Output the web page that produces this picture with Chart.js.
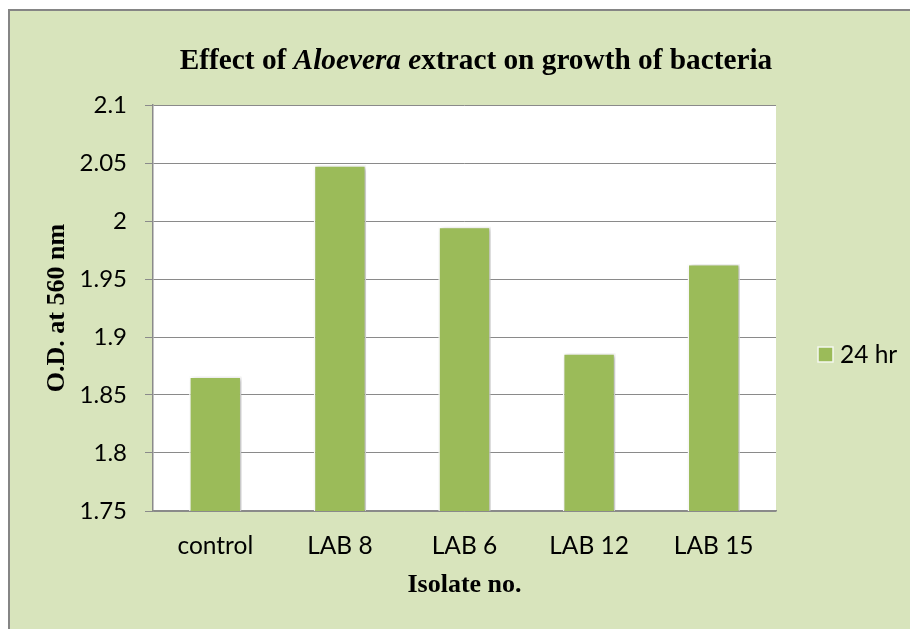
<!DOCTYPE html>
<html>
<head>
<meta charset="utf-8">
<script src="https://cdn.jsdelivr.net/npm/chart.js@4.4.1/dist/chart.umd.min.js"></script>
<style>
  html, body { margin: 0; padding: 0; background: #fff; }
  #wrap { position: relative; width: 910px; height: 629px; overflow: hidden; }
  #box {
    position: absolute; left: 8px; top: 9px; width: 920px; height: 640px;
    background: #d8e4bc; border-left: 2px solid #858585; border-top: 2px solid #858585;
  }
  #od_chart { position: absolute; left: 0; top: 0; }
</style>
</head>
<body>
<div id="wrap">
  <div id="box"></div>
  <canvas id="od_chart" width="910" height="629"></canvas>
</div>
<script>
// data
const categories = ["control", "LAB 8", "LAB 6", "LAB 12", "LAB 15"];
const od24hr = [1.866, 2.048, 1.995, 1.886, 1.963];
const seriesLabel = "24 hr";
const yMin = 1.75;
const yMax = 2.1;
const yStep = 0.05;

// title pieces (part of it is italic)
const titleParts = [
  { text: "Effect of ", italic: false },
  { text: "Aloevera e", italic: true },
  { text: "xtract on growth of bacteria", italic: false },
];
const yTitle = "O.D. at 560 nm";
const xTitle = "Isolate no.";

const barGreen = "#9bbb59";
const gridGray = "#8a8a8a";
const serif = "'Liberation Serif', 'Times New Roman', serif";
const sans = "Lato, 'Noto Sans', sans-serif";

// white plot area, bar shadow, mixed-style title and the legend
const extrasPlugin = {
  id: "extras",
  beforeDraw(chart) {
    const a = chart.chartArea;
    const ctx = chart.ctx;
    ctx.save();
    ctx.fillStyle = "#ffffff";
    ctx.fillRect(a.left, a.top, a.right - a.left, a.bottom - a.top);
    ctx.restore();
  },
  beforeDatasetsDraw(chart) {
    const ctx = chart.ctx;
    ctx.save();
    ctx.shadowColor = "rgba(0,0,0,0.28)";
    ctx.shadowBlur = 4;
    ctx.shadowOffsetX = 2;
    ctx.shadowOffsetY = 1;
  },
  afterDatasetsDraw(chart) {
    chart.ctx.restore();
  },
  afterDraw(chart) {
    const ctx = chart.ctx;
    ctx.save();
    // title
    ctx.fillStyle = "#000";
    ctx.textBaseline = "middle";
    let total = 0;
    titleParts.forEach((p) => {
      ctx.font = (p.italic ? "italic " : "") + "bold 29.3px " + serif;
      p.w = ctx.measureText(p.text).width;
      total += p.w;
    });
    let x = 476 - total / 2;
    titleParts.forEach((p) => {
      ctx.font = (p.italic ? "italic " : "") + "bold 29.3px " + serif;
      ctx.fillText(p.text, x, 61);
      x += p.w;
    });
    // legend
    const ds = chart.data.datasets[0];
    const lx = chart.chartArea.right + 42;
    const ly = 347;
    ctx.fillStyle = ds.backgroundColor;
    ctx.fillRect(lx, ly, 15, 15);
    ctx.strokeStyle = "#f4f7ee";
    ctx.lineWidth = 1.5;
    ctx.strokeRect(lx, ly, 15, 15);
    ctx.fillStyle = "#000";
    ctx.font = "24.5px " + sans;
    ctx.textAlign = "left";
    ctx.fillText(ds.label, lx + 22, ly + 8);
    ctx.restore();
  },
};

const config = {
  type: "bar",
  data: {
    labels: categories,
    datasets: [
      {
        label: seriesLabel,
        data: od24hr,
        backgroundColor: barGreen,
        borderColor: "#ffffff",
        borderWidth: 1.5,
        barPercentage: 0.42,
        categoryPercentage: 1,
      },
    ],
  },
  options: {
    responsive: false,
    animation: false,
    layout: { padding: { left: 0, top: 105, right: 134, bottom: 0 } },
    plugins: {
      legend: { display: false },
      title: { display: false },
      tooltip: { enabled: false },
    },
    scales: {
      x: {
        grid: { display: false },
        border: { display: true, color: gridGray, width: 1.5 },
        ticks: { color: "#000", font: { family: sans, size: 24.5 }, padding: 12 },
        title: {
          display: true,
          text: xTitle,
          color: "#000",
          font: { family: serif, size: 26, weight: "bold" },
          padding: { top: 0, bottom: 28 },
        },
        afterFit: (s) => { s.height = 118; },
      },
      y: {
        min: yMin,
        max: yMax,
        grid: { color: gridGray, lineWidth: 1, tickLength: 8, tickColor: gridGray },
        border: { display: true, color: gridGray, width: 1.5 },
        ticks: {
          stepSize: yStep,
          color: "#000",
          font: { family: sans, size: 24 },
          padding: 18,
          callback: (v) => String(Number(v.toFixed(2))),
        },
        title: {
          display: true,
          text: yTitle,
          color: "#000",
          font: { family: serif, size: 26, weight: "bold" },
          padding: { top: 42, bottom: 0 },
        },
        afterFit: (s) => { s.width = 153; },
      },
    },
  },
  plugins: [extrasPlugin],
};

const odChart = new Chart(document.getElementById("od_chart"), config);
</script>
</body>
</html>
